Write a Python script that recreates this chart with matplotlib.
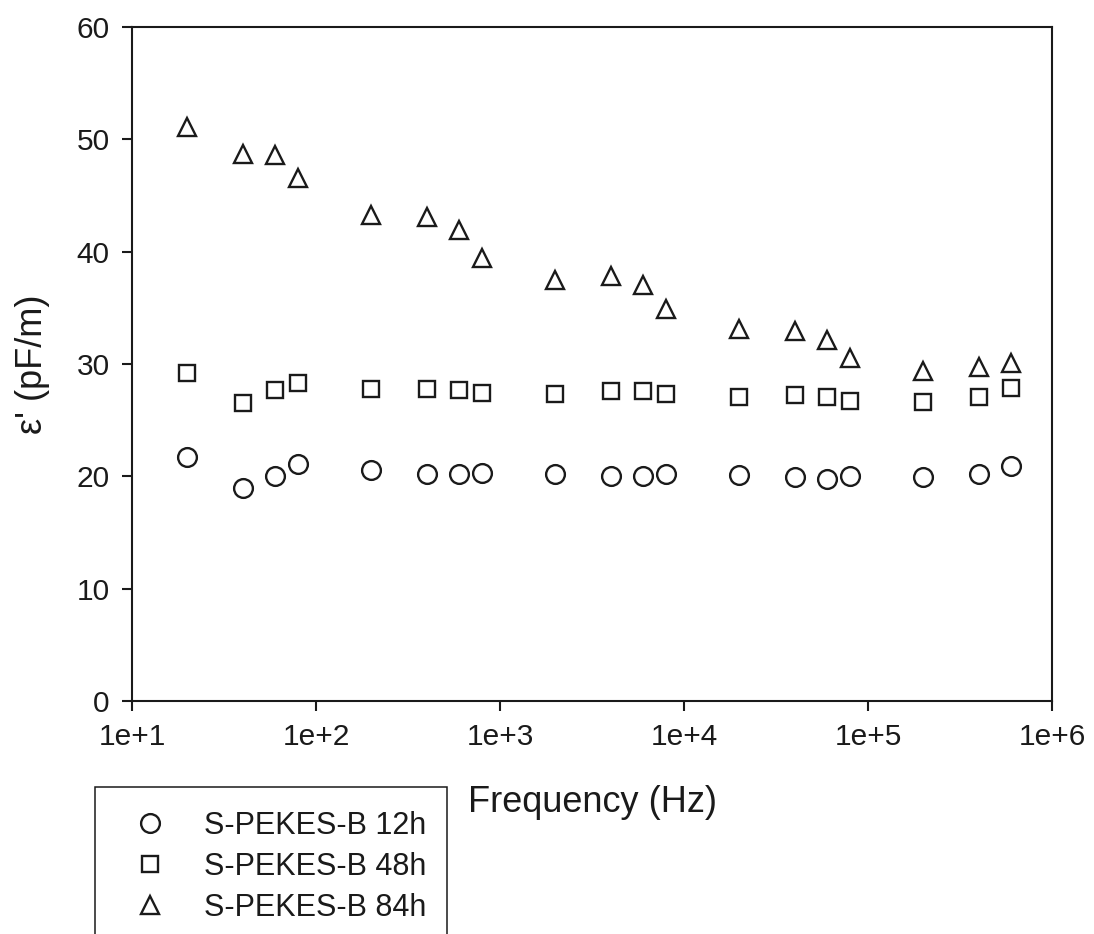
import numpy as np
import matplotlib
matplotlib.use("Agg")
import matplotlib.pyplot as plt
from matplotlib.patches import Rectangle
from matplotlib.ticker import FixedLocator, FixedFormatter, NullLocator

plt.rcParams['font.family'] = ['Liberation Sans', 'DejaVu Sans']

# frequency (Hz)
freq = [20, 40, 60, 80, 200, 400, 600, 800, 2000, 4000, 6000, 8000,
        20000, 40000, 60000, 80000, 200000, 400000, 600000]

# dielectric constant e' (pF/m)
eps_12h = [21.7, 19.0, 20.0, 21.1, 20.6, 20.2, 20.2, 20.3, 20.2, 20.0,
           20.0, 20.2, 20.1, 19.9, 19.8, 20.0, 19.9, 20.2, 20.9]
eps_48h = [29.2, 26.5, 27.7, 28.3, 27.8, 27.8, 27.7, 27.4, 27.3, 27.6,
           27.6, 27.3, 27.1, 27.2, 27.1, 26.7, 26.6, 27.1, 27.9]
eps_84h = [51.1, 48.7, 48.6, 46.6, 43.3, 43.1, 41.9, 39.4, 37.5, 37.8,
           37.0, 34.9, 33.1, 32.9, 32.1, 30.5, 29.4, 29.7, 30.1]

labels = ['S-PEKES-B 12h', 'S-PEKES-B 48h', 'S-PEKES-B 84h']
x_ticks = [1e1, 1e2, 1e3, 1e4, 1e5, 1e6]
x_tick_labels = ['1e+1', '1e+2', '1e+3', '1e+4', '1e+5', '1e+6']
y_ticks = [0, 10, 20, 30, 40, 50, 60]

W, H = 1094, 934
fig = plt.figure(figsize=(W / 100, H / 100), dpi=100)
ax = fig.add_axes([132 / W, 1 - 701 / H, 920 / W, 674 / H])

ink = '#1a1a1a'
common = dict(linestyle='none', markerfacecolor='none', markeredgecolor=ink,
              markeredgewidth=1.7)
h1, = ax.plot(freq, eps_12h, marker='o', markersize=13.5, label=labels[0], **common)
h2, = ax.plot(freq, eps_48h, marker='s', markersize=12, label=labels[1], **common)
h3, = ax.plot(freq, eps_84h, marker='^', markersize=13.5, label=labels[2], **common)

ax.set_xscale('log')
ax.set_xlim(1e1, 1e6)
ax.set_ylim(0, 60)
ax.xaxis.set_major_locator(FixedLocator(x_ticks))
ax.xaxis.set_major_formatter(FixedFormatter(x_tick_labels))
ax.xaxis.set_minor_locator(NullLocator())
ax.set_yticks(y_ticks)

for s in ax.spines.values():
    s.set_linewidth(1.5)
    s.set_color(ink)
ax.tick_params(direction='out', length=7, width=1.5, color=ink,
               labelsize=21.5, labelcolor=ink, pad=9)

ax.set_xlabel('Frequency (Hz)', fontsize=26, color=ink)
ax.xaxis.set_label_coords(0.5, (701 - 803) / 674)
ax.xaxis.label.set_va('center')
ax.set_ylabel("ε' (pF/m)", fontsize=26, color=ink)
ax.yaxis.set_label_coords((33 - 132) / 920, 0.5)
ax.yaxis.label.set_va('center')

# legend box, cut by the lower edge of the figure
fig.patches.append(Rectangle((95 / W, -0.02), 352 / W, 0.02 + 1 - 787 / H,
                             transform=fig.transFigure, fill=False,
                             edgecolor=ink, linewidth=1.1))
fig.legend(handles=[h1, h2, h3], loc='upper left',
           bbox_to_anchor=(135 / W, 1 - 811 / H), bbox_transform=fig.transFigure,
           frameon=False, fontsize=22, borderpad=0, borderaxespad=0,
           handlelength=1.0, handletextpad=1.25, labelspacing=0.36,
           labelcolor=ink)

fig.savefig('out.png', dpi=100)
